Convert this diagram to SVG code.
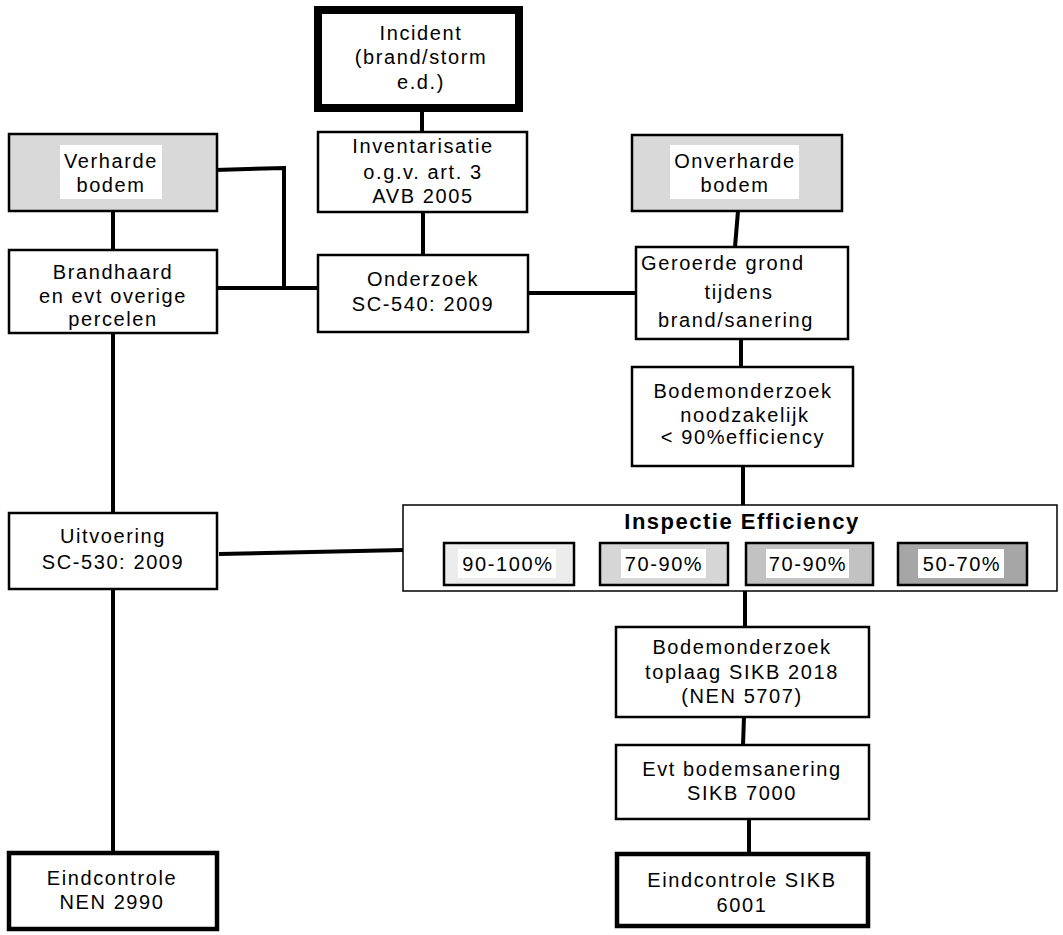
<svg xmlns="http://www.w3.org/2000/svg" width="1063" height="935" viewBox="0 0 1063 935">
<style>
  .box { fill: #ffffff; stroke: #000000; stroke-width: 2.5; }
  .gray { fill: #d9d9d9; stroke: #000000; stroke-width: 2.5; }
  .thick { fill: #ffffff; stroke: #000000; stroke-width: 4.5; }
  .heavy { fill: #ffffff; stroke: #000000; stroke-width: 8; }
  .bg { fill: #ffffff; stroke: none; }
  .conn { fill: none; stroke: #000000; stroke-width: 4; stroke-linejoin: miter; }
  text { font-family: "Liberation Sans", Arial, sans-serif; font-size: 20px; letter-spacing: 1.6px; fill: #000000; }
  .c { text-anchor: middle; }
  .title { font-weight: bold; font-size: 22px; letter-spacing: 1.5px; }
  .eff { fill: #ffffff; stroke: #000000; stroke-width: 1.5; }
  .sub { stroke: #000000; stroke-width: 2.5; }
</style>
<rect width="1063" height="935" fill="#ffffff"/>
<g id="connectors">
  <line class="conn" x1="422" y1="112" x2="422" y2="132"/>
  <line class="conn" x1="423" y1="212" x2="423" y2="255"/>
  <line class="conn" x1="113" y1="211" x2="113" y2="250"/>
  <polyline class="conn" points="215,170 284,168 284,288"/>
  <line class="conn" x1="217" y1="288" x2="318" y2="288"/>
  <line class="conn" x1="528" y1="293" x2="636" y2="293"/>
  <line class="conn" x1="738" y1="211" x2="735" y2="247"/>
  <line class="conn" x1="741" y1="339" x2="741" y2="367"/>
  <line class="conn" x1="743" y1="466" x2="743" y2="505"/>
  <line class="conn" x1="113" y1="333" x2="113" y2="513"/>
  <line class="conn" x1="219" y1="554" x2="404" y2="550"/>
  <line class="conn" x1="113" y1="589" x2="113" y2="851"/>
  <line class="conn" x1="745" y1="591" x2="745" y2="627"/>
  <line class="conn" x1="744" y1="717" x2="743" y2="745"/>
  <line class="conn" x1="749" y1="819" x2="749" y2="852"/>
</g>
<g id="incident">
  <rect class="heavy" x="318" y="10" width="201" height="98"/>
  <text class="c" x="421" y="40">Incident</text>
  <text class="c" x="421" y="64">(brand/storm</text>
  <text class="c" x="421" y="89">e.d.)</text>
</g>
<g id="inventarisatie">
  <rect class="box" x="318" y="132" width="209" height="80"/>
  <text class="c" x="423" y="153">Inventarisatie</text>
  <text class="c" x="423" y="179">o.g.v. art. 3</text>
  <text class="c" x="423" y="203">AVB 2005</text>
</g>
<g id="onderzoek">
  <rect class="box" x="318" y="255" width="210" height="77"/>
  <text class="c" x="423" y="286">Onderzoek</text>
  <text class="c" x="423" y="311">SC-540: 2009</text>
</g>
<g id="verharde">
  <rect class="gray" x="9" y="134" width="208" height="77"/>
  <rect class="bg" x="60" y="145" width="102" height="54"/>
  <text class="c" x="111" y="168">Verharde</text>
  <text class="c" x="111" y="192">bodem</text>
</g>
<g id="brandhaard">
  <rect class="box" x="9" y="250" width="208" height="83"/>
  <text class="c" x="113" y="279">Brandhaard</text>
  <text class="c" x="113" y="303">en evt overige</text>
  <text class="c" x="113" y="326">percelen</text>
</g>
<g id="onverharde">
  <rect class="gray" x="632" y="135" width="210" height="76"/>
  <rect class="bg" x="670" y="145" width="129" height="54"/>
  <text class="c" x="735" y="168">Onverharde</text>
  <text class="c" x="735" y="192">bodem</text>
</g>
<g id="geroerde">
  <rect class="box" x="636" y="247" width="212" height="92"/>
  <text x="641" y="270">Geroerde grond</text>
  <text class="c" x="739" y="299">tijdens</text>
  <text class="c" x="736" y="327">brand/sanering</text>
</g>
<g id="bodemonderzoek-noodzakelijk">
  <rect class="box" x="632" y="367" width="221" height="99"/>
  <text class="c" x="743" y="398">Bodemonderzoek</text>
  <text class="c" x="745" y="422">noodzakelijk</text>
  <text class="c" x="743" y="444">&lt; 90%efficiency</text>
</g>
<g id="uitvoering">
  <rect class="box" x="9" y="513" width="208" height="76"/>
  <text class="c" x="113" y="543">Uitvoering</text>
  <text class="c" x="113" y="569">SC-530: 2009</text>
</g>
<g id="inspectie-efficiency">
  <rect class="eff" x="403" y="505" width="654" height="86"/>
  <text class="c title" x="742" y="529">Inspectie Efficiency</text>
  <rect class="sub" fill="#ececec" x="444" y="543" width="130" height="42"/>
  <rect class="bg" x="458" y="549" width="98" height="29"/>
  <text class="c" x="508" y="571">90-100%</text>
  <rect class="sub" fill="#d6d6d6" x="600" y="543" width="128" height="42"/>
  <rect class="bg" x="621" y="549" width="85" height="29"/>
  <text class="c" x="664" y="571">70-90%</text>
  <rect class="sub" fill="#c2c2c2" x="746" y="543" width="127" height="42"/>
  <rect class="bg" x="766" y="549" width="83" height="29"/>
  <text class="c" x="808" y="571">70-90%</text>
  <rect class="sub" fill="#a6a6a6" x="898" y="543" width="129" height="42"/>
  <rect class="bg" x="918" y="549" width="86" height="29"/>
  <text class="c" x="962" y="571">50-70%</text>
</g>
<g id="bodemonderzoek-toplaag">
  <rect class="box" x="616" y="627" width="253" height="90"/>
  <text class="c" x="742" y="654">Bodemonderzoek</text>
  <text class="c" x="742" y="679">toplaag SIKB 2018</text>
  <text class="c" x="742" y="703">(NEN 5707)</text>
</g>
<g id="bodemsanering">
  <rect class="box" x="616" y="745" width="253" height="74"/>
  <text class="c" x="742" y="776">Evt bodemsanering</text>
  <text class="c" x="742" y="800">SIKB 7000</text>
</g>
<g id="eindcontrole-nen">
  <rect class="thick" x="9" y="853" width="208" height="76"/>
  <text class="c" x="112" y="885">Eindcontrole</text>
  <text class="c" x="112" y="909">NEN 2990</text>
</g>
<g id="eindcontrole-sikb">
  <rect class="thick" x="617" y="854" width="251" height="72"/>
  <text class="c" x="742" y="887">Eindcontrole SIKB</text>
  <text class="c" x="742" y="912">6001</text>
</g>
</svg>
